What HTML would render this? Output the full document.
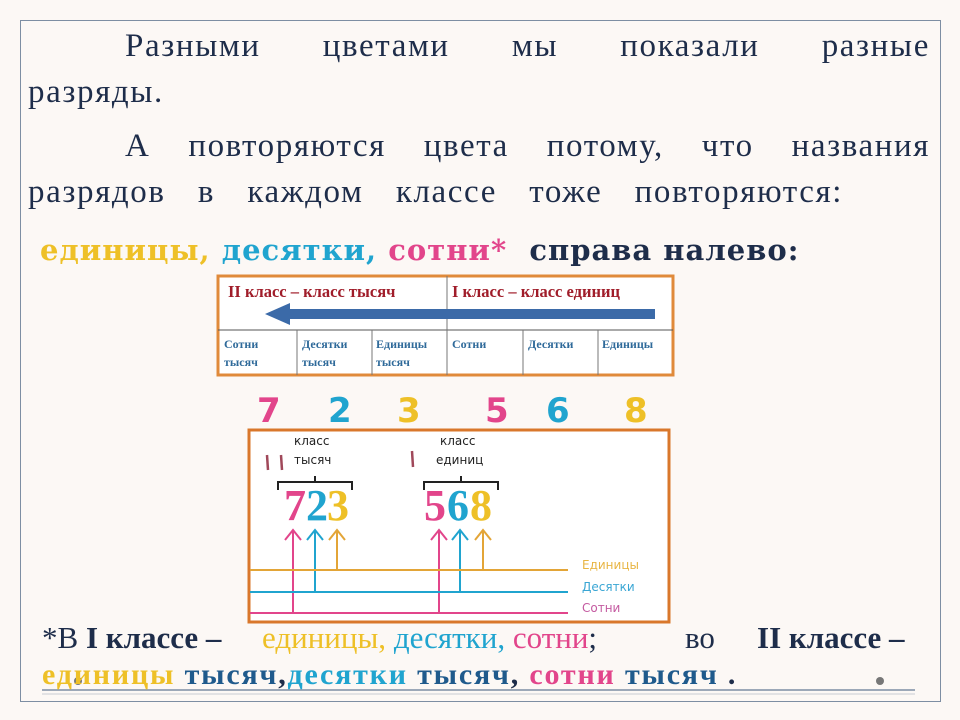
<!DOCTYPE html>
<html><head><meta charset="utf-8"><style>
body{margin:0;width:960px;height:720px;background:#fcf8f5;position:relative;overflow:hidden;font-family:"Liberation Serif","DejaVu Serif",serif;}
.a{position:absolute;white-space:nowrap}
.t{color:#1e2d4a;font-size:33px;letter-spacing:1.6px}
.b{font-weight:bold}
.y{color:#eec027}.c{color:#20a4cf}.p{color:#e2458b}.k{color:#1e2d4a}
.l1{top:620px;font-size:31px}
</style></head><body>
<div class="a" style="left:20px;top:20px;width:919px;height:680px;border:1px solid #7d8ea3"></div>
<div class="a t" style="left:125px;top:28px;width:805px;display:flex;justify-content:space-between"><span>Разными</span><span>цветами</span><span>мы</span><span>показали</span><span>разные</span></div>
<div class="a t" style="left:28px;top:74px">разряды.</div>
<div class="a t" style="left:125px;top:128px;width:805px;display:flex;justify-content:space-between"><span>А</span><span>повторяются</span><span>цвета</span><span>потому,</span><span>что</span><span>названия</span></div>
<div class="a t" style="left:28px;top:174px;width:815px;display:flex;justify-content:space-between"><span>разрядов</span><span>в</span><span>каждом</span><span>классе</span><span>тоже</span><span>повторяются:</span></div>
<div class="a b" style="left:40px;top:233px;font-size:29px;font-family:'DejaVu Serif',serif;letter-spacing:1px"><span class="y">единицы,</span> <span class="c">десятки,</span> <span class="p">сотни*</span> &nbsp;<span class="k">справа налево:</span></div>

<svg class="a" style="left:0;top:0" width="960" height="720">
<rect x="218" y="276" width="455" height="99" fill="#fff" stroke="#e08a3a" stroke-width="3"/>
<line x1="218" y1="330" x2="673" y2="330" stroke="#555" stroke-width="1"/>
<g stroke="#777" stroke-width="1"><line x1="447" y1="276" x2="447" y2="375"/><line x1="297" y1="330" x2="297" y2="375"/><line x1="372" y1="330" x2="372" y2="375"/><line x1="523" y1="330" x2="523" y2="375"/><line x1="598" y1="330" x2="598" y2="375"/></g>
<rect x="285" y="309" width="370" height="10" fill="#3b6aa8"/>
<polygon points="265,314 290,303 290,325" fill="#3b6aa8"/>
<g font-family="Liberation Serif,serif" font-weight="bold" font-size="16.5" fill="#a01d2a"><text x="228" y="297">II класс – класс тысяч</text><text x="452" y="297">I класс – класс единиц</text></g>
<g font-family="Liberation Serif,serif" font-weight="bold" font-size="12" fill="#2f6a9a"><text x="224" y="348">Сотни</text><text x="224" y="366">тысяч</text><text x="302" y="348">Десятки</text><text x="302" y="366">тысяч</text><text x="376" y="348">Единицы</text><text x="376" y="366">тысяч</text><text x="452" y="348">Сотни</text><text x="528" y="348">Десятки</text><text x="602" y="348">Единицы</text></g>
<g font-family="DejaVu Sans,sans-serif" font-weight="bold" font-size="34"><text x="257" y="422" fill="#e2458b">7</text><text x="328" y="422" fill="#20a4cf">2</text><text x="397" y="422" fill="#eec027">3</text><text x="485" y="422" fill="#e2458b">5</text><text x="546" y="422" fill="#20a4cf">6</text><text x="624" y="422" fill="#eec027">8</text></g>
<rect x="249" y="430" width="420" height="192" fill="#fff" stroke="#d9772b" stroke-width="3"/>
<g font-family="DejaVu Sans,sans-serif" font-size="12" fill="#222"><text x="294" y="445">класс</text><text x="294" y="464">тысяч</text><text x="440" y="445">класс</text><text x="436" y="464">единиц</text></g>
<g stroke="#a0485a" stroke-width="2.5"><line x1="268" y1="470" x2="267" y2="455"/><line x1="282" y1="470" x2="281" y2="455"/><line x1="413" y1="467" x2="412" y2="451"/></g>
<g stroke="#222" stroke-width="2" fill="none"><path d="M278,490 V482 H352 V490 M315,482 V476"/><path d="M424,490 V482 H498 V490 M461,482 V476"/></g>
<g font-family="Liberation Serif,serif" font-weight="bold" font-size="44"><text x="284" y="520" fill="#e2458b">7</text><text x="306" y="520" fill="#20a4cf">2</text><text x="327" y="520" fill="#eec027">3</text><text x="424" y="520" fill="#e2458b">5</text><text x="447" y="520" fill="#20a4cf">6</text><text x="470" y="520" fill="#eec027">8</text></g>
<g fill="none" stroke-width="2">
<g stroke="#e2458b"><path d="M293,613 V530 M285,540 L293,530 L301,540"/><path d="M439,613 V530 M431,540 L439,530 L447,540"/><line x1="250" y1="613" x2="568" y2="613"/></g>
<g stroke="#20a4cf"><path d="M315,592 V530 M307,540 L315,530 L323,540"/><path d="M460,592 V530 M452,540 L460,530 L468,540"/><line x1="250" y1="592" x2="568" y2="592"/></g>
<g stroke="#e3a537"><path d="M337,570 V530 M329,540 L337,530 L345,540"/><path d="M483,570 V530 M475,540 L483,530 L491,540"/><line x1="250" y1="570" x2="568" y2="570"/></g>
</g>
<g font-family="DejaVu Sans,sans-serif" font-size="12"><text x="582" y="569" fill="#e8b543">Единицы</text><text x="582" y="591" fill="#3aa6d4">Десятки</text><text x="582" y="612" fill="#c45aa0">Сотни</text></g>
<line x1="42" y1="690" x2="915" y2="690" stroke="#7d8ea3" stroke-width="1.5"/>
<line x1="42" y1="694" x2="915" y2="694" stroke="#c8cdd4" stroke-width="1"/>
<circle cx="78" cy="681" r="4" fill="#777"/><circle cx="880" cy="681" r="4" fill="#777"/>
</svg>
<div class="a l1 k" style="left:42px">*В <b>I классе –</b></div>
<div class="a l1" style="left:262px"><span class="y">единицы,</span> <span class="c">десятки,</span> <span class="p">сотни</span><span class="k">;</span></div>
<div class="a l1 k" style="left:685px">во</div>
<div class="a l1 k b" style="left:757px">II классе –</div>
<div class="a b" style="left:42px;top:658px;font-size:30px;letter-spacing:1.8px"><span class="y">единицы</span> <span style="color:#1f5a8c">тысяч</span><span class="k">,</span><span class="c">десятки</span> <span style="color:#1f5a8c">тысяч</span><span class="k">,</span> <span class="p">сотни</span> <span style="color:#1f5a8c">тысяч</span> <span class="k">.</span></div>
</body></html>
